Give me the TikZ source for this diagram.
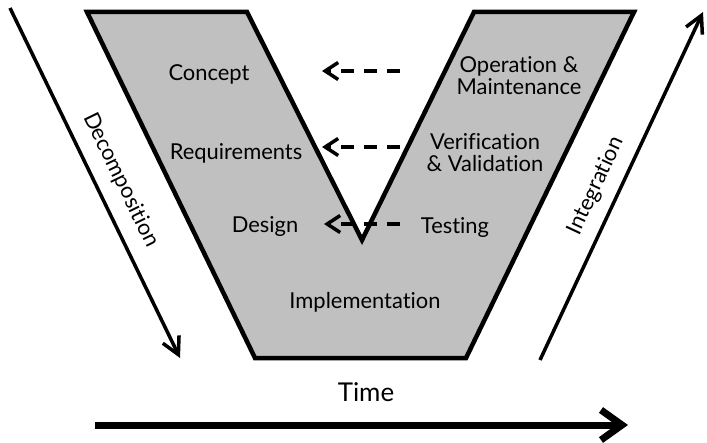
\documentclass[tikz,border=0pt]{standalone}
\usepackage{fontspec}
\setmainfont{Lato}[Ligatures=NoCommon]
\usetikzlibrary{arrows.meta}
\definecolor{vfill}{RGB}{192,192,192}
\begin{document}
\begin{tikzpicture}[x=1bp,y=-1bp,
  lbl/.style={font=\fontsize{22}{22}\selectfont, align=center, inner sep=0pt},
  vshape/.style={fill=vfill, draw=black, line width=4.5bp, line join=miter},
  bigarrow/.style={line width=3.5bp, -{Straight Barb[length=17bp,width=18bp]}},
  backarrow/.style={line width=3.5bp, dash pattern=on 13bp off 10bp, -{Straight Barb[length=13bp,width=17bp]}},
  timearrow/.style={line width=7bp, -{Straight Barb[length=21bp,width=30bp]}}]
\useasboundingbox (0,0) rectangle (707,443);
% V shape
\draw[vshape] (87,12) -- (247,12) -- (362,240) -- (474,12) -- (634,12) -- (466,358) -- (255,358) -- cycle;
% labels in V
\node[lbl] (concept) at (209,74) {Concept};
\node[lbl] (req) at (236,153) {Requirements};
\node[lbl] (design) at (265,227) {Design};
\node[lbl] (impl) at (365,302) {Implementation};
\node[lbl] (opm) at (519,76) {Operation \&\\Maintenance};
\node[lbl] (vv) at (485,153) {Verification\\\& Validation};
\node[lbl] (test) at (455,228) {Testing};
% dashed back arrows
\coordinate (a1s) at (400,71); \coordinate (a1e) at (322,71);
\coordinate (a2s) at (400,147); \coordinate (a2e) at (322,147);
\coordinate (a3s) at (400,224); \coordinate (a3e) at (324,224);
\draw[backarrow] (a1s) -- (a1e);
\draw[backarrow] (a2s) -- (a2e);
\draw[backarrow] (a3s) -- (a3e);
% decomposition
\coordinate (ds) at (10,8); \coordinate (de) at (180,358);
\draw[bigarrow] (ds) -- (de);
\node[lbl, rotate=-64] (decomp) at (121,180) {Decomposition};
% integration
\coordinate (is) at (540,360); \coordinate (ie) at (703,12);
\draw[bigarrow] (is) -- (ie);
\node[lbl, rotate=65] (integ) at (596,186) {Integration};
% time
\node[lbl, font=\fontsize{26}{28}\selectfont] (time) at (366,392) {Time};
\coordinate (ts) at (95,425); \coordinate (te) at (628,425);
\draw[timearrow] (ts) -- (te);
\end{tikzpicture}
\end{document}
